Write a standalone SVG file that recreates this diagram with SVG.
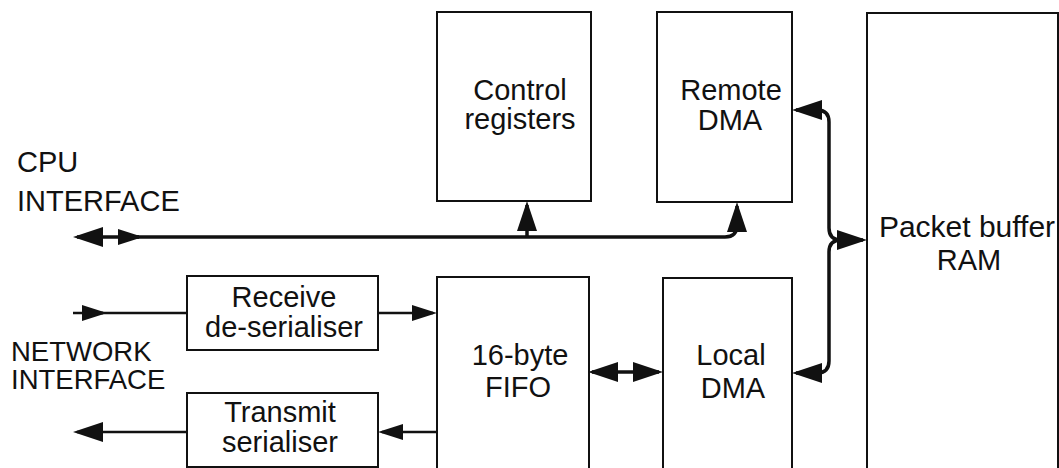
<svg xmlns="http://www.w3.org/2000/svg" width="1059" height="468" viewBox="0 0 1059 468">
<style>
.box{fill:none;stroke:#111;stroke-width:2}
.t{font-family:"Liberation Sans",Arial,sans-serif;font-size:29px;fill:#111;text-anchor:middle}
.l{font-family:"Liberation Sans",Arial,sans-serif;font-size:29px;fill:#111}
.bus{fill:none;stroke:#111;stroke-width:3.5}
.net{fill:none;stroke:#111;stroke-width:2.5}
</style>
<defs>
<marker id="ah" markerUnits="userSpaceOnUse" markerWidth="34" markerHeight="22" refX="26" refY="10" orient="auto-start-reverse" overflow="visible">
<path d="M0,0 L30,10 L0,20 Z" fill="#111"/>
</marker>
<marker id="as" markerUnits="userSpaceOnUse" markerWidth="28" markerHeight="18" refX="21" refY="8" orient="auto-start-reverse" overflow="visible">
<path d="M0,0 L25,8 L0,16 Z" fill="#111"/>
</marker>
</defs>
<rect width="1059" height="468" fill="#fff"/>
<g id="cpu-interface">
<text class="l" x="17" y="172">CPU</text>
<text class="l" x="17" y="211">INTERFACE</text>
</g>
<g id="network-interface">
<text class="l" x="11" y="361" style="font-size:27.5px">NETWORK</text>
<text class="l" x="11" y="389" style="font-size:27.5px">INTERFACE</text>
</g>
<g id="control-registers">
<rect class="box" x="437" y="12" width="154" height="189"/>
<text class="t" x="520" y="100">Control</text>
<text class="t" x="520" y="129">registers</text>
</g>
<g id="remote-dma">
<rect class="box" x="657" y="12" width="135" height="190"/>
<text class="t" x="731" y="100">Remote</text>
<text class="t" x="730" y="130">DMA</text>
</g>
<g id="packet-buffer-ram">
<rect class="box" x="867" y="13" width="191" height="470"/>
<text class="t" x="967" y="237" style="font-size:30px">Packet buffer</text>
<text class="t" x="969" y="270">RAM</text>
</g>
<g id="receive-deserialiser">
<rect class="box" x="187" y="276" width="191" height="74"/>
<text class="t" x="284" y="307">Receive</text>
<text class="t" x="284" y="337">de-serialiser</text>
</g>
<g id="transmit-serialiser">
<rect class="box" x="187" y="393" width="191" height="74"/>
<text class="t" x="280" y="422">Transmit</text>
<text class="t" x="280" y="452">serialiser</text>
</g>
<g id="fifo">
<rect class="box" x="437" y="277" width="152" height="210"/>
<text class="t" x="520" y="365">16-byte</text>
<text class="t" x="518" y="397">FIFO</text>
</g>
<g id="local-dma">
<rect class="box" x="663" y="278" width="129" height="210"/>
<text class="t" x="731" y="365">Local</text>
<text class="t" x="733" y="398">DMA</text>
</g>
<g id="connectors">
<path class="bus" d="M77,237 L725,237 Q737,237 737,225 L737,206" marker-start="url(#ah)" marker-end="url(#ah)"/>
<path class="bus" d="M118,237 L139,237" marker-end="url(#as)"/>
<path class="bus" d="M527,237 L527,205" marker-end="url(#ah)"/>
<path class="bus" d="M796,110 L817,110 Q829,110 829,122 L829,228 Q829,240 841,240 L863,240" marker-start="url(#ah)" marker-end="url(#ah)"/>
<path class="bus" d="M841,240 Q829,240 829,252 L829,361 Q829,373 817,373 L796,373" marker-end="url(#ah)"/>
<path class="bus" d="M592,372 L659,372" marker-start="url(#ah)" marker-end="url(#ah)"/>
<path class="net" d="M73,313 L187,313"/>
<path class="net" d="M86,313 L103,313" marker-end="url(#as)"/>
<path class="net" d="M378,313 L433,313" marker-end="url(#as)"/>
<path class="net" d="M437,432 L382,432" marker-end="url(#as)"/>
<path class="net" d="M187,432 L77,432" marker-end="url(#ah)"/>
</g>
</svg>
